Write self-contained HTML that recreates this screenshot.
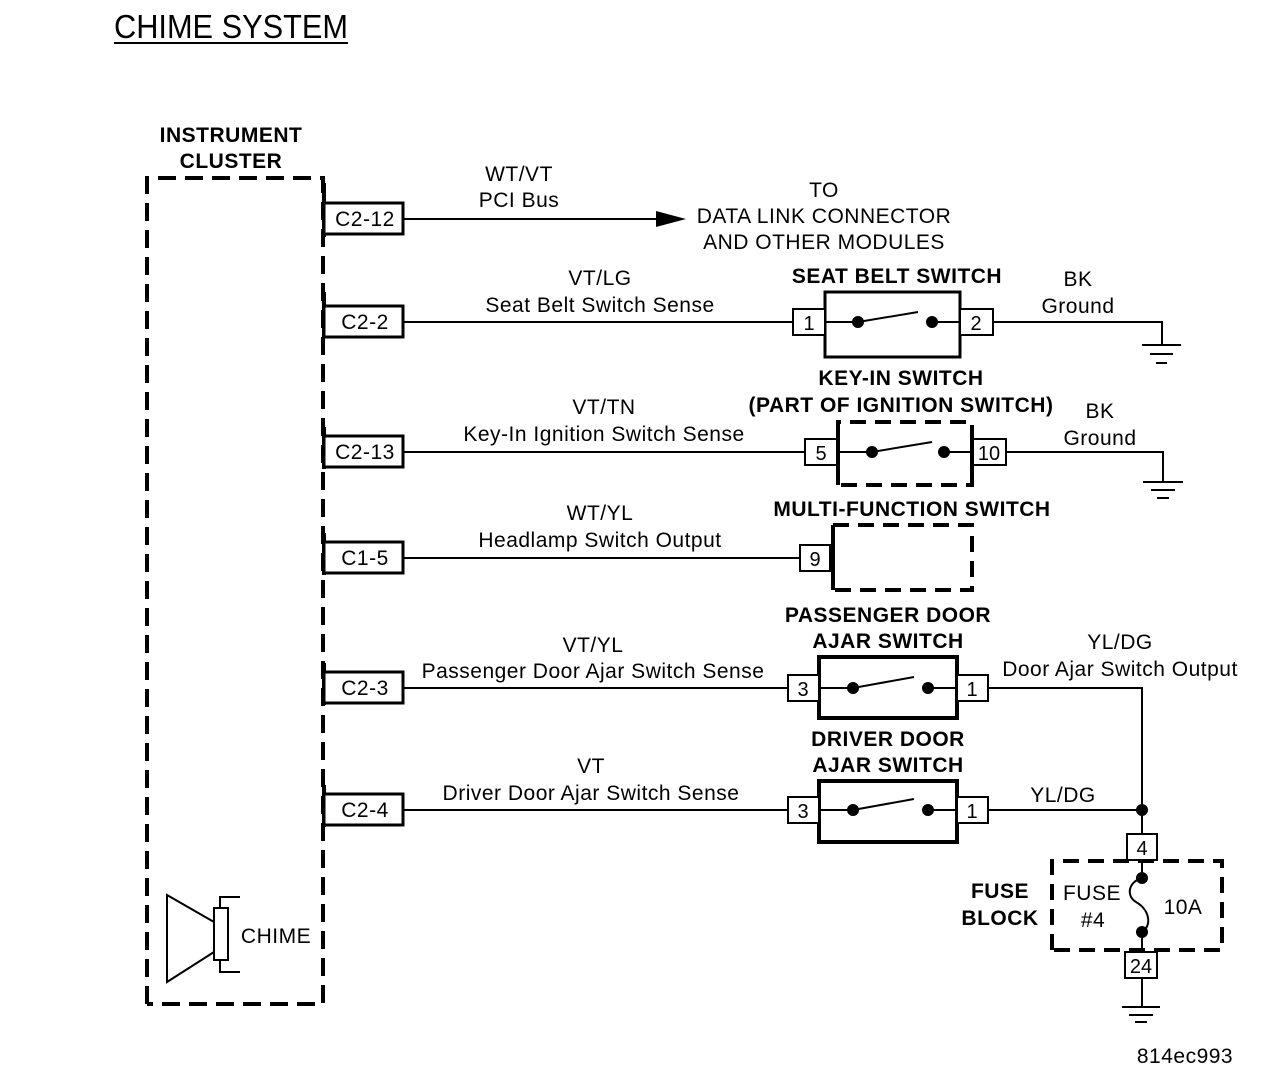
<!DOCTYPE html>
<html><head><meta charset="utf-8"><style>
html,body{margin:0;padding:0;background:#fff}
svg{display:block}
text{font-family:"Liberation Sans",sans-serif;fill:#000}
.b{font-weight:bold}
.w{font-size:21px;letter-spacing:0.5px}
</style></head><body>
<svg width="1264" height="1076" viewBox="0 0 1264 1076">
<text x="114" y="38" font-size="33" textLength="234" lengthAdjust="spacingAndGlyphs">CHIME SYSTEM</text>
<line x1="114" y1="43" x2="348" y2="43" stroke="#000" stroke-width="2"/>
<g class="w">
<text class="b" x="231" y="142" text-anchor="middle">INSTRUMENT</text>
<text class="b" x="231" y="168" text-anchor="middle">CLUSTER</text>
</g>
<g fill="none" stroke="#000" stroke-width="4" stroke-dasharray="18,9">
<path d="M147,1004 V178 H323 V1004 H147"/>
</g>
<g stroke="#000" stroke-width="4">
<line x1="324" y1="183" x2="324" y2="237"/>
<line x1="324" y1="292" x2="324" y2="338"/>
<line x1="324" y1="427" x2="324" y2="469"/>
<line x1="324" y1="533" x2="324" y2="575"/>
<line x1="324" y1="663" x2="324" y2="705"/>
<line x1="324" y1="785" x2="324" y2="827"/>
</g>
<g fill="#fff" stroke="#000" stroke-width="3">
<rect x="324" y="203" width="79" height="31"/>
<rect x="324" y="306" width="79" height="31"/>
<rect x="324" y="436" width="79" height="31"/>
<rect x="324" y="542" width="79" height="31"/>
<rect x="324" y="672" width="79" height="31"/>
<rect x="324" y="794" width="79" height="31"/>
</g>
<g class="w" text-anchor="middle">
<text x="365" y="226">C2-12</text>
<text x="365" y="329">C2-2</text>
<text x="365" y="459">C2-13</text>
<text x="365" y="565">C1-5</text>
<text x="365" y="695">C2-3</text>
<text x="365" y="817">C2-4</text>
</g>
<g stroke="#000" stroke-width="2" fill="none">
<line x1="403" y1="219" x2="660" y2="219"/>
<line x1="403" y1="322" x2="793" y2="322"/>
<polyline points="993,322 1162,322 1162,345"/>
<line x1="403" y1="452" x2="805" y2="452"/>
<polyline points="1006,452 1163,452 1163,482"/>
<line x1="403" y1="558" x2="800" y2="558"/>
<line x1="403" y1="688" x2="788" y2="688"/>
<polyline points="988,688 1142,688 1142,834"/>
<line x1="403" y1="810" x2="788" y2="810"/>
<line x1="988" y1="810" x2="1142" y2="810"/>
<line x1="1142" y1="860" x2="1142" y2="878"/>
<line x1="1142" y1="932" x2="1142" y2="952"/>
<line x1="1142" y1="978" x2="1142" y2="1007"/>
<path d="M1142,878 C1128,882 1126,896 1136,902 C1150,910 1152,926 1142,932"/>
</g>
<polygon points="656,211 686,219 656,227" fill="#000"/>
<g stroke="#000" stroke-width="2">
<line x1="1142" y1="345" x2="1181" y2="345"/><line x1="1150" y1="354" x2="1173" y2="354"/><line x1="1156" y1="363" x2="1167" y2="363"/>
<line x1="1143" y1="482" x2="1183" y2="482"/><line x1="1151" y1="490" x2="1175" y2="490"/><line x1="1157" y1="498" x2="1169" y2="498"/>
<line x1="1122" y1="1007" x2="1160" y2="1007"/><line x1="1129" y1="1015" x2="1153" y2="1015"/><line x1="1135" y1="1022" x2="1147" y2="1022"/>
</g>
<g class="w" text-anchor="middle">
<text x="519" y="181">WT/VT</text>
<text x="519" y="207">PCI Bus</text>
<text x="824" y="197">TO</text>
<text x="824" y="223">DATA LINK CONNECTOR</text>
<text x="824" y="249">AND OTHER MODULES</text>
<text x="600" y="285">VT/LG</text>
<text x="600" y="312">Seat Belt Switch Sense</text>
<text class="b" x="897" y="283">SEAT BELT SWITCH</text>
<text x="1078" y="286">BK</text>
<text x="1078" y="313">Ground</text>
<text x="604" y="414">VT/TN</text>
<text x="604" y="441">Key-In Ignition Switch Sense</text>
<text class="b" x="901" y="385">KEY-IN SWITCH</text>
<text class="b" x="901" y="412">(PART OF IGNITION SWITCH)</text>
<text x="1100" y="418">BK</text>
<text x="1100" y="445">Ground</text>
<text x="600" y="520">WT/YL</text>
<text x="600" y="547">Headlamp Switch Output</text>
<text class="b" x="912" y="516">MULTI-FUNCTION SWITCH</text>
<text x="593" y="652">VT/YL</text>
<text x="593" y="678">Passenger Door Ajar Switch Sense</text>
<text class="b" x="888" y="622">PASSENGER DOOR</text>
<text class="b" x="888" y="648">AJAR SWITCH</text>
<text x="1120" y="649">YL/DG</text>
<text x="1120" y="676">Door Ajar Switch Output</text>
<text x="591" y="773">VT</text>
<text x="591" y="800">Driver Door Ajar Switch Sense</text>
<text class="b" x="888" y="746">DRIVER DOOR</text>
<text class="b" x="888" y="772">AJAR SWITCH</text>
<text x="1063" y="802">YL/DG</text>
<text class="b" x="1000" y="898">FUSE</text>
<text class="b" x="1000" y="925">BLOCK</text>
<text x="1092" y="900">FUSE</text>
<text x="1093" y="927">#4</text>
<text x="1183" y="914">10A</text>
<text x="276" y="943">CHIME</text>
<text x="1185" y="1063">814ec993</text>
</g>
<g fill="none" stroke="#000">
<rect x="825" y="292" width="135" height="65" stroke-width="3"/>
<rect x="819" y="657" width="138" height="61" stroke-width="4"/>
<rect x="819" y="781" width="138" height="61" stroke-width="4"/>
<g stroke-width="4" stroke-dasharray="16,9">
<path d="M838,485 V422 H972 V485 H838"/>
<path d="M833,525 H972 V590 H833"/>
</g>
<line x1="838" y1="422" x2="838" y2="485" stroke-width="4"/>
<line x1="972" y1="430" x2="972" y2="478" stroke-width="4"/>
<line x1="833" y1="525" x2="833" y2="590" stroke-width="4"/>
</g>
<g fill="#fff" stroke="#000" stroke-width="2">
<rect x="793" y="309" width="32" height="26"/>
<rect x="960" y="309" width="33" height="26"/>
<rect x="805" y="439" width="32" height="26"/>
<rect x="973" y="439" width="33" height="26"/>
<rect x="800" y="545" width="30" height="26"/>
<rect x="788" y="675" width="31" height="26"/>
<rect x="957" y="675" width="31" height="26"/>
<rect x="788" y="797" width="31" height="26"/>
<rect x="957" y="797" width="31" height="26"/>
<rect x="1127" y="834" width="30" height="26"/>
<rect x="1125" y="952" width="32" height="26"/>
</g>
<g font-size="20" text-anchor="middle">
<text x="809" y="330">1</text><text x="976" y="330">2</text>
<text x="821" y="460">5</text><text x="989" y="460">10</text>
<text x="815" y="566">9</text>
<text x="803" y="696">3</text><text x="972" y="696">1</text>
<text x="803" y="818">3</text><text x="972" y="818">1</text>
<text x="1142" y="855">4</text><text x="1141" y="973">24</text>
</g>
<g stroke="#000" stroke-width="2" fill="#000">
<line x1="825" y1="322" x2="858" y2="322"/><line x1="932" y1="322" x2="960" y2="322"/><line x1="858" y1="322" x2="918" y2="312"/>
<circle cx="858" cy="322" r="5"/><circle cx="932" cy="322" r="5"/>
<line x1="838" y1="452" x2="872" y2="452"/><line x1="944" y1="452" x2="972" y2="452"/><line x1="872" y1="452" x2="932" y2="442"/>
<circle cx="872" cy="452" r="5"/><circle cx="944" cy="452" r="5"/>
<line x1="819" y1="688" x2="853" y2="688"/><line x1="928" y1="688" x2="957" y2="688"/><line x1="853" y1="688" x2="914" y2="677"/>
<circle cx="853" cy="688" r="5"/><circle cx="928" cy="688" r="5"/>
<line x1="819" y1="810" x2="853" y2="810"/><line x1="928" y1="810" x2="957" y2="810"/><line x1="853" y1="810" x2="914" y2="799"/>
<circle cx="853" cy="810" r="5"/><circle cx="928" cy="810" r="5"/>
<circle cx="1142" cy="810" r="5"/><circle cx="1142" cy="878" r="5"/><circle cx="1142" cy="932" r="5"/>
</g>
<path d="M1052,950 V861 H1222 V950 Z" fill="none" stroke="#000" stroke-width="4" stroke-dasharray="16,9"/>
<g fill="none" stroke="#000" stroke-width="2">
<polyline points="214,922 167,895 167,982 214,952"/>
<rect x="214" y="908" width="14" height="52"/>
<polyline points="240,897 220,897 220,908"/>
<polyline points="240,972 220,972 220,960"/>
</g>
</svg>
</body></html>
